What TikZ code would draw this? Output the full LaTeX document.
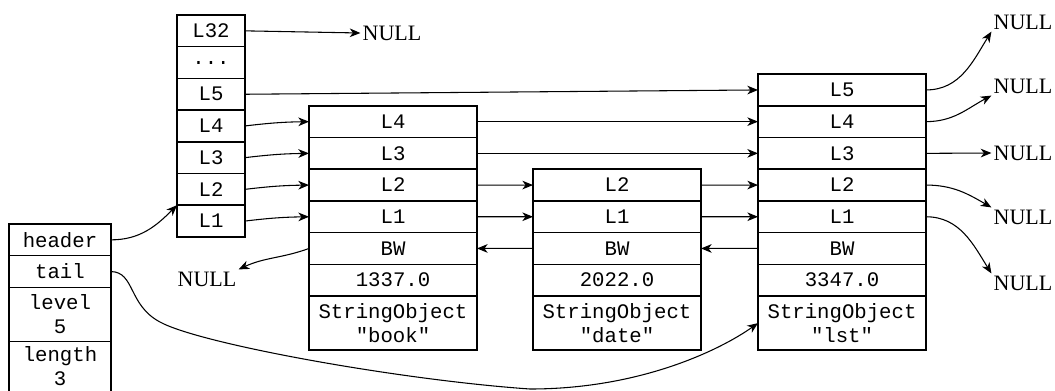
\documentclass[tikz,border=0pt]{standalone}
\usepackage{fontspec}
\usetikzlibrary{arrows.meta}
\newfontfamily\monof{Liberation Mono}
\newfontfamily\nullf{Liberation Serif}
\newdimen\pxu \pxu=0.75pt
\tikzset{
  cell/.style={draw, line width=1.1pt, inner sep=0pt, outer sep=0pt,
    minimum height=31.7\pxu, anchor=north west, align=center,
    font=\monof\fontsize{15.5}{18}\selectfont},
  hcol/.style={cell, minimum width=68\pxu},
  ncol/.style={cell, minimum width=168\pxu},
  scol/.style={cell, minimum width=102\pxu},
  tall/.style={minimum height=54.2\pxu},
  nulltxt/.style={font=\nullf\fontsize{16.5}{18}\selectfont, inner sep=2\pxu},
  ptr/.style={-{Stealth[length=8pt,width=6.5pt,inset=2.4pt]}, line width=0.8pt},
}
\begin{document}
\begin{tikzpicture}[x=0.75pt,y=-0.75pt]
\useasboundingbox (0,0) rectangle (1055,390);
% header column (zskiplist levels)
\node[hcol] (hL32) at (177,15) {L32};
\node[hcol] (hdots) at (hL32.south west) {...};
\node[hcol] (hL5) at (hdots.south west) {L5};
\node[hcol] (hL4) at (hL5.south west) {L4};
\node[hcol] (hL3) at (hL4.south west) {L3};
\node[hcol] (hL2) at (hL3.south west) {L2};
\node[hcol] (hL1) at (hL2.south west) {L1};
% zskiplist struct
\node[scol] (sh) at (9,224) {header};
\node[scol] (st) at (sh.south west) {tail};
\node[scol,tall] (slev) at (st.south west) {level\\5};
\node[scol,minimum height=50\pxu] (slen) at (slev.south west) {length\\3};
% node book
\node[ncol] (aL4) at (309,105.8) {L4};
\node[ncol] (aL3) at (aL4.south west) {L3};
\node[ncol] (aL2) at (aL3.south west) {L2};
\node[ncol] (aL1) at (aL2.south west) {L1};
\node[ncol] (aBW) at (aL1.south west) {BW};
\node[ncol] (aSc) at (aBW.south west) {1337.0};
\node[ncol,tall] (aObj) at (aSc.south west) {StringObject\\"book"};
% node date
\node[ncol] (bL2) at (533,169.2) {L2};
\node[ncol] (bL1) at (bL2.south west) {L1};
\node[ncol] (bBW) at (bL1.south west) {BW};
\node[ncol] (bSc) at (bBW.south west) {2022.0};
\node[ncol,tall] (bObj) at (bSc.south west) {StringObject\\"date"};
% node lst
\node[ncol] (cL5) at (758,74.1) {L5};
\node[ncol] (cL4) at (cL5.south west) {L4};
\node[ncol] (cL3) at (cL4.south west) {L3};
\node[ncol] (cL2) at (cL3.south west) {L2};
\node[ncol] (cL1) at (cL2.south west) {L1};
\node[ncol] (cBW) at (cL1.south west) {BW};
\node[ncol] (cSc) at (cBW.south west) {3347.0};
\node[ncol,tall] (cObj) at (cSc.south west) {StringObject\\"lst"};
% NULL labels
\node[nulltxt] (n0) at (392,33) {NULL};
\node[nulltxt] (nA) at (207,279) {NULL};
\node[nulltxt] (n1) at (1023,22) {NULL};
\node[nulltxt] (n2) at (1023,86) {NULL};
\node[nulltxt] (n3) at (1023,153) {NULL};
\node[nulltxt] (n4) at (1023,217) {NULL};
\node[nulltxt] (n5) at (1023,283) {NULL};
% pointers
\draw[ptr] (hL32.east) -- (n0.west);
\draw[ptr] (hL5.east) -- (cL5.west);
\draw[ptr] (hL4.east) to[bend left=3] (aL4.west);
\draw[ptr] (hL3.east) to[bend left=3] (aL3.west);
\draw[ptr] (hL2.east) to[bend left=3] (aL2.west);
\draw[ptr] (hL1.east) to[bend left=3] (aL1.west);
\draw[ptr] (sh.east) to[out=0,in=225] (hL1.north west);
\draw[ptr] (aL4.east) -- (cL4.west);
\draw[ptr] (aL3.east) -- (cL3.west);
\draw[ptr] (aL2.east) -- (bL2.west);
\draw[ptr] (aL1.east) -- (bL1.west);
\draw[ptr] (bL2.east) -- (cL2.west);
\draw[ptr] (bL1.east) -- (cL1.west);
\draw[ptr] (aBW.west) to[out=200,in=25] (nA.north east);
\draw[ptr] (bBW.west) -- (aBW.east);
\draw[ptr] (cBW.west) -- (bBW.east);
\draw[ptr] (cL5.east) to[out=0,in=238] (n1.south west);
\draw[ptr] (cL4.east) to[out=0,in=208] (n2.south west);
\draw[ptr] (cL3.east) -- (n3.west);
\draw[ptr] (cL2.east) to[out=0,in=150] (n4.north west);
\draw[ptr] (cL1.east) to[out=0,in=122] (n5.north west);
\draw[ptr] (st.east) .. controls (135,272) and (128,305) .. (160,322)
  .. controls (200,344) and (400,380) .. (530,389)
  .. controls (640,389) and (720,350) .. (cObj.west);
\end{tikzpicture}
\end{document}
